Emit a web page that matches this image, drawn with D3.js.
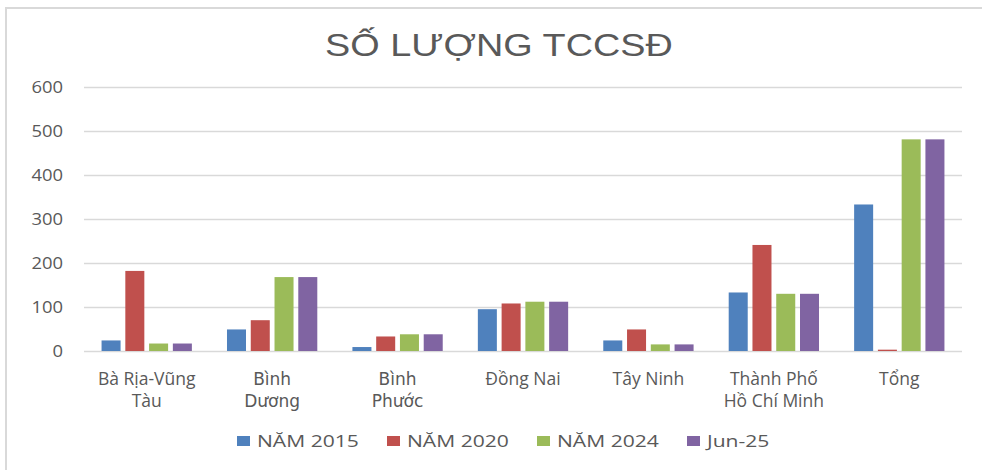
<!DOCTYPE html>
<html>
<head>
<meta charset="utf-8">
<script src="https://cdn.jsdelivr.net/npm/d3@7"></script>
<style>
  body { margin: 0; background: #fff; }
  svg text { fill: #595959; }
</style>
</head>
<body>
<svg id="chart" width="982" height="470"></svg>
<script>
const categories = [
  ["Bà Rịa-Vũng", "Tàu"],
  ["Bình", "Dương"],
  ["Bình", "Phước"],
  ["Đồng Nai"],
  ["Tây Ninh"],
  ["Thành Phố", "Hồ Chí Minh"],
  ["Tổng"]
];
const series_names = ["NĂM 2015", "NĂM 2020", "NĂM 2024", "Jun-25"];
const nam2015 = [24, 49, 9, 95, 24, 133, 333];
const nam2020 = [182, 70, 33, 108, 49, 241, 3];
const nam2024 = [17, 168, 38, 112, 15, 130, 481];
const jun25 = [17, 168, 38, 112, 15, 130, 481];
const y_ticks = [0, 100, 200, 300, 400, 500, 600];

const all_series = [nam2015, nam2020, nam2024, jun25];
const colors = ["#4f81bd", "#c0504d", "#9bbb59", "#8064a2"];

const plot_left = 84, plot_right = 962, plot_top = 87, plot_bottom = 351;

const svg = d3.select("#chart");

// widen text like the original picture does
function stretch(sel, k) {
  sel.each(function() {
    const w = this.getComputedTextLength();
    d3.select(this).attr("textLength", w * k).attr("lengthAdjust", "spacingAndGlyphs");
  });
}

// frame
svg.append("path")
  .attr("d", "M6,470 V8 H982")
  .style("fill", "none")
  .style("stroke", "#d9d9d9")
  .style("stroke-width", 2);

// title
svg.append("text")
  .attr("x", 499)
  .attr("y", 56)
  .attr("text-anchor", "middle")
  .style("font-family", "'Liberation Sans', Arial, sans-serif")
  .style("font-size", "31px")
  .text("SỐ LƯỢNG TCCSĐ")
  .call(stretch, 1.22);

const x0 = d3.scaleBand()
  .domain(d3.range(categories.length))
  .range([plot_left, plot_right])
  .paddingInner(0.28)
  .paddingOuter(0.14);

const x1 = d3.scaleBand()
  .domain(d3.range(series_names.length))
  .range([0, x0.bandwidth()])
  .paddingInner(0.2);

const y = d3.scaleLinear()
  .domain([0, 600])
  .range([plot_bottom, plot_top]);

// gridlines
svg.append("g")
  .attr("transform", "translate(" + plot_left + ",0)")
  .call(d3.axisLeft(y).tickValues(y_ticks).tickSize(-(plot_right - plot_left)).tickFormat(""))
  .call(g => g.select(".domain").remove())
  .call(g => g.selectAll("line").style("stroke", "#d9d9d9").style("stroke-width", 1.5));

// y labels
const yAxis = svg.append("g")
  .attr("transform", "translate(" + plot_left + ",0)")
  .call(d3.axisLeft(y).tickValues(y_ticks).tickSize(0).tickPadding(21))
  .call(g => g.select(".domain").remove());
yAxis.selectAll("text")
  .style("font-family", "'Open Sans', sans-serif")
  .style("font-size", "16px")
  .style("fill", "#595959")
  .call(stretch, 1.15);

// bars
const groups = svg.append("g")
  .selectAll("g")
  .data(categories.map((c, i) => i))
  .join("g")
  .attr("transform", i => "translate(" + x0(i) + ",0)");

groups.selectAll("rect")
  .data(i => all_series.map((s, k) => ({ k: k, v: s[i] })))
  .join("rect")
  .attr("x", d => x1(d.k))
  .attr("width", x1.bandwidth())
  .attr("y", d => y(d.v))
  .attr("height", d => y(0) - y(d.v))
  .style("fill", d => colors[d.k]);

// category labels, one text per line
const wideFont = ["Bình"];
const labelLines = [];
categories.forEach((c, i) => c.forEach((line, j) => labelLines.push({ i: i, j: j, text: line, wide: wideFont.includes(c[0]) })));

svg.append("g")
  .selectAll("text")
  .data(labelLines)
  .join("text")
  .attr("x", d => x0(d.i) + x0.bandwidth() / 2)
  .attr("y", d => 385 + d.j * 22)
  .attr("text-anchor", "middle")
  .style("font-family", d => d.wide ? "'DejaVu Sans', sans-serif" : "'Open Sans', sans-serif")
  .style("font-size", d => d.wide ? "17px" : "17.5px")
  .text(d => d.text);

// legend
const legend = svg.append("g")
  .selectAll("g")
  .data(series_names)
  .join("g")
  .attr("transform", (d, i) => "translate(" + (237 + i * 150) + ",441)");

legend.append("rect")
  .attr("x", 0)
  .attr("y", -5)
  .attr("width", 13)
  .attr("height", 10)
  .style("fill", (d, i) => colors[i]);

legend.append("text")
  .attr("x", 20)
  .attr("y", 0)
  .attr("dy", "0.36em")
  .style("font-family", "'Open Sans', sans-serif")
  .style("font-size", "15.5px")
  .text(d => d)
  .call(stretch, 1.36);
</script>
</body>
</html>
